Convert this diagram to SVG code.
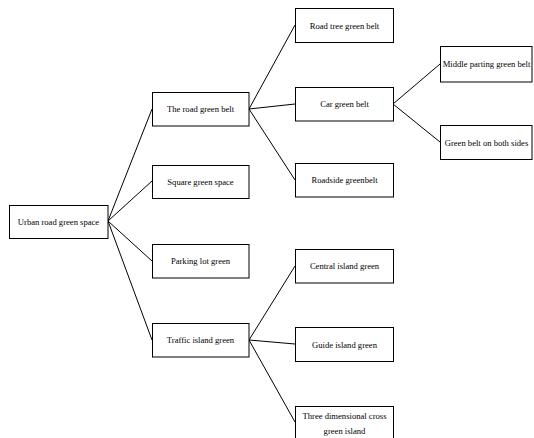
<svg xmlns="http://www.w3.org/2000/svg" width="534" height="438" viewBox="0 0 534 438">
<style>
.box{fill:#fff;stroke:#000;stroke-width:1}
.t{font-family:"Liberation Serif","Times New Roman",serif;font-size:8.6px;fill:#000;text-anchor:middle;dominant-baseline:central}
.c{stroke:#000;stroke-width:1;fill:none}
</style>
<rect width="534" height="438" fill="#fff"/>
<g id="connectors">
<path class="c" d="M108,221 L152,109 M108,221 L152,181 M108,221 L152,261 M108,221 L152,340"/>
<path class="c" d="M249,109 L295,25 M249,109 L295,104 M249,109 L295,180"/>
<path class="c" d="M393,104 L440,64 M393,104 L440,142"/>
<path class="c" d="M249,340 L295,266 M249,340 L295,344 M249,340 L295,422"/>
</g>
<g id="n-root"><rect class="box" x="9.5" y="205.5" width="98.5" height="33"/><text class="t" x="58.5" y="222">Urban road green space</text></g>
<g id="n-road"><rect class="box" x="152.5" y="92.5" width="96.5" height="33.5"/><text class="t" x="200.5" y="109">The road green belt</text></g>
<g id="n-square"><rect class="box" x="152.5" y="165.5" width="96.5" height="33"/><text class="t" x="200.5" y="182">Square green space</text></g>
<g id="n-parking"><rect class="box" x="152.5" y="244.5" width="96.5" height="33.5"/><text class="t" x="200.5" y="261">Parking lot green</text></g>
<g id="n-traffic"><rect class="box" x="152.5" y="323.5" width="96.5" height="33.5"/><text class="t" x="200.5" y="340">Traffic island green</text></g>
<g id="n-roadtree"><rect class="box" x="295.5" y="8.5" width="98" height="34"/><text class="t" x="344.5" y="25.5">Road tree green belt</text></g>
<g id="n-car"><rect class="box" x="295.5" y="87.5" width="98" height="33.5"/><text class="t" x="344.5" y="104">Car green belt</text></g>
<g id="n-roadside"><rect class="box" x="295.5" y="163.5" width="98" height="33.5"/><text class="t" x="344.5" y="180">Roadside greenbelt</text></g>
<g id="n-middle"><rect class="box" x="440.5" y="46.5" width="91.5" height="35.5"/><text class="t" x="486.5" y="64">Middle parting green belt</text></g>
<g id="n-both"><rect class="box" x="440.5" y="125.5" width="91.5" height="34"/><text class="t" x="486.5" y="142.5">Green belt on both sides</text></g>
<g id="n-central"><rect class="box" x="295.5" y="249.5" width="98" height="33.5"/><text class="t" x="344.5" y="266">Central island green</text></g>
<g id="n-guide"><rect class="box" x="295.5" y="327.5" width="98" height="34"/><text class="t" x="344.5" y="344.5">Guide island green</text></g>
<g id="n-three"><rect class="box" x="295.5" y="406.5" width="98" height="40"/><text class="t" x="344.5" y="416">Three dimensional cross</text><text class="t" x="344.5" y="431">green island</text></g>
</svg>
